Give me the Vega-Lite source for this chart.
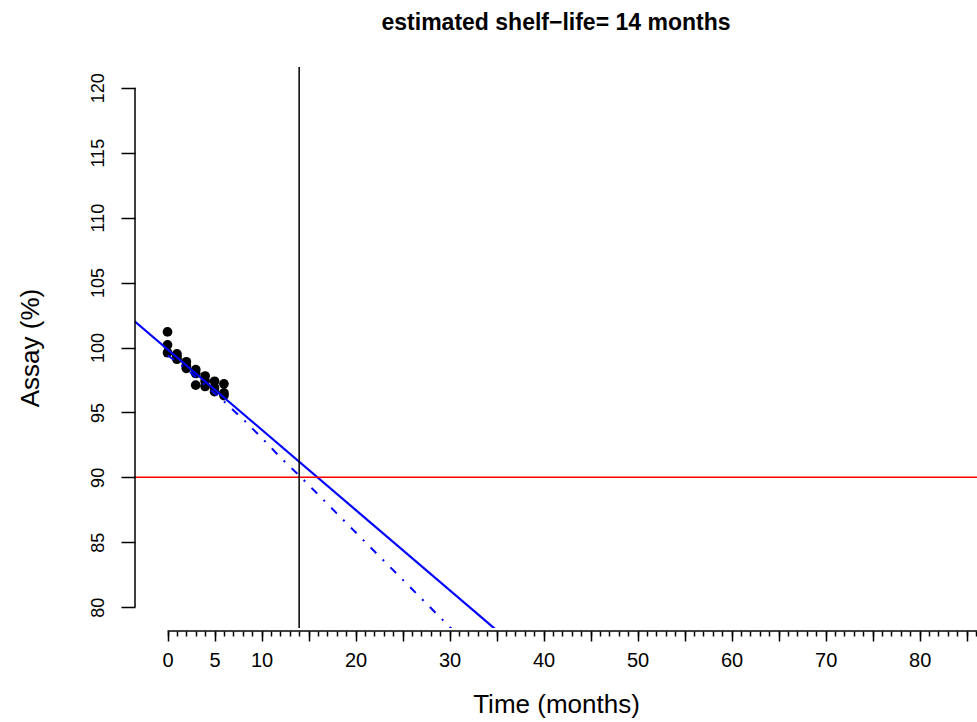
{
  "$schema": "https://vega.github.io/schema/vega-lite/v6.json",
  "autosize": {"type": "none"},
  "width": 842,
  "height": 561,
  "padding": {"left": 135, "top": 67, "right": 0, "bottom": 94},
  "background": "white",
  "config": {
    "view": {"stroke": null},
    "font": "Liberation Sans",
    "axis": {"labelFont": "Liberation Sans", "titleFont": "Liberation Sans", "labelColor": "black", "titleColor": "black", "tickColor": "black", "tickWidth": 1.5, "grid": false, "titleFontWeight": "normal"}
  },
  "title": {"text": "estimated shelf−life= 14 months", "font": "Liberation Sans", "fontSize": 23, "fontWeight": "bold", "color": "black", "anchor": "middle", "offset": 31},
  "datasets": {
    "points": [
      {"t": 0, "assay": 101.2}, {"t": 0, "assay": 100.2}, {"t": 0, "assay": 99.6},
      {"t": 1, "assay": 99.5}, {"t": 1, "assay": 99.3}, {"t": 1, "assay": 99.1},
      {"t": 2, "assay": 98.9}, {"t": 2, "assay": 98.6}, {"t": 2, "assay": 98.4},
      {"t": 3, "assay": 98.3}, {"t": 3, "assay": 98.0}, {"t": 3, "assay": 97.1},
      {"t": 4, "assay": 97.8}, {"t": 4, "assay": 97.4}, {"t": 4, "assay": 97.0},
      {"t": 5, "assay": 97.4}, {"t": 5, "assay": 96.9}, {"t": 5, "assay": 96.6},
      {"t": 6, "assay": 97.2}, {"t": 6, "assay": 96.5}, {"t": 6, "assay": 96.3}
    ],
    "fit": [
      {"t": -3.5, "v": 102.02},
      {"t": 36, "v": 77.61}
    ],
    "lower": [
      {"t": 0, "v": 99.4}, {"t": 2, "v": 98.35}, {"t": 4, "v": 97.1}, {"t": 6, "v": 95.85},
      {"t": 8, "v": 94.5}, {"t": 10, "v": 93.05}, {"t": 12, "v": 91.54}, {"t": 14, "v": 90.15},
      {"t": 18, "v": 87.23}, {"t": 22, "v": 84.31}, {"t": 26, "v": 81.4}, {"t": 30, "v": 78.49},
      {"t": 32, "v": 77.03}
    ],
    "limit": [{"assay_limit": 90}],
    "shelf": [{"shelf_life": 14}]
  },
  "resolve": {"axis": {"x": "independent", "y": "independent"}},
  "layer": [
    {
      "data": {"name": "points"},
      "mark": {"type": "circle", "size": 95, "opacity": 1, "color": "black"},
      "encoding": {
        "x": {"field": "t", "type": "quantitative", "scale": {"domain": [-3.46, 86.1], "nice": false, "zero": false},
          "axis": {"orient": "bottom", "values": [0,5,10,15,20,25,30,35,40,45,50,55,60,65,70,75,80,85], "tickSize": 10, "offset": 3, "domain": false,
            "labelFontSize": 20, "labelPadding": 9, "labelExpr": "(datum.value <= 10 || datum.value % 10 == 0) ? datum.label : ''",
            "labelOverlap": false, "title": "Time (months)", "titleFontSize": 26, "titlePadding": 21}},
        "y": {"field": "assay", "type": "quantitative", "scale": {"domain": [78.4, 121.6], "nice": false, "zero": false},
          "axis": {"orient": "left", "values": [80,85,90,95,100,105,110,115,120], "tickSize": 14, "domain": false, "labelAngle": -90,
            "labelAlign": "center", "labelBaseline": "bottom", "labelPadding": 14, "labelFontSize": 18, "labelOverlap": false,
            "title": "Assay (%)", "titleFontSize": 26, "titlePadding": 46}}
      }
    },
    {
      "data": {"name": "fit"},
      "mark": {"type": "line", "clip": true, "color": "blue", "strokeWidth": 2.2},
      "encoding": {
        "x": {"field": "t", "type": "quantitative", "scale": {"domain": [-3.46, 86.1], "nice": false, "zero": false},
          "axis": {"orient": "bottom", "values": [0,1,2,3,4,5,6,7,8,9,10,11,12,13,14,15,16,17,18,19,20,21,22,23,24,25,26,27,28,29,30,31,32,33,34,35,36,37,38,39,40,41,42,43,44,45,46,47,48,49,50,51,52,53,54,55,56,57,58,59,60,61,62,63,64,65,66,67,68,69,70,71,72,73,74,75,76,77,78,79,80,81,82,83,84,85,86],
            "tickSize": 5, "offset": 3, "domain": false, "labels": false, "title": null}},
        "y": {"field": "v", "type": "quantitative", "scale": {"domain": [78.4, 121.6], "nice": false, "zero": false}, "axis": null}
      }
    },
    {
      "data": {"name": "lower"},
      "mark": {"type": "line", "clip": true, "color": "blue", "strokeWidth": 2, "strokeDash": [8, 9, 2, 9]},
      "encoding": {
        "x": {"field": "t", "type": "quantitative", "scale": {"domain": [-3.46, 86.1], "nice": false, "zero": false}, "axis": null},
        "y": {"field": "v", "type": "quantitative", "scale": {"domain": [78.4, 121.6], "nice": false, "zero": false}, "axis": null}
      }
    },
    {
      "data": {"name": "limit"},
      "mark": {"type": "rule", "color": "red", "strokeWidth": 1.5},
      "encoding": {
        "y": {"field": "assay_limit", "type": "quantitative", "scale": {"domain": [78.4, 121.6], "nice": false, "zero": false}, "axis": null}
      }
    },
    {
      "data": {"name": "shelf"},
      "mark": {"type": "rule", "color": "black", "strokeWidth": 1.5},
      "encoding": {
        "x": {"field": "shelf_life", "type": "quantitative", "scale": {"domain": [-3.46, 86.1], "nice": false, "zero": false}, "axis": null}
      }
    },
    {
      "data": {"values": [{}]},
      "mark": {"type": "rule", "color": "black", "strokeWidth": 1.5},
      "encoding": {
        "x": {"datum": -3.46, "type": "quantitative", "scale": {"domain": [-3.46, 86.1], "nice": false, "zero": false}, "axis": null},
        "y": {"datum": 80, "type": "quantitative", "scale": {"domain": [78.4, 121.6], "nice": false, "zero": false}, "axis": null},
        "y2": {"datum": 120}
      }
    },
    {
      "data": {"values": [{}]},
      "mark": {"type": "rule", "color": "black", "strokeWidth": 1.5},
      "encoding": {
        "y": {"datum": 78.17, "type": "quantitative", "scale": {"domain": [78.4, 121.6], "nice": false, "zero": false}, "axis": null},
        "x": {"datum": 0, "type": "quantitative", "scale": {"domain": [-3.46, 86.1], "nice": false, "zero": false}, "axis": null},
        "x2": {"datum": 86.1}
      }
    }
  ]
}
